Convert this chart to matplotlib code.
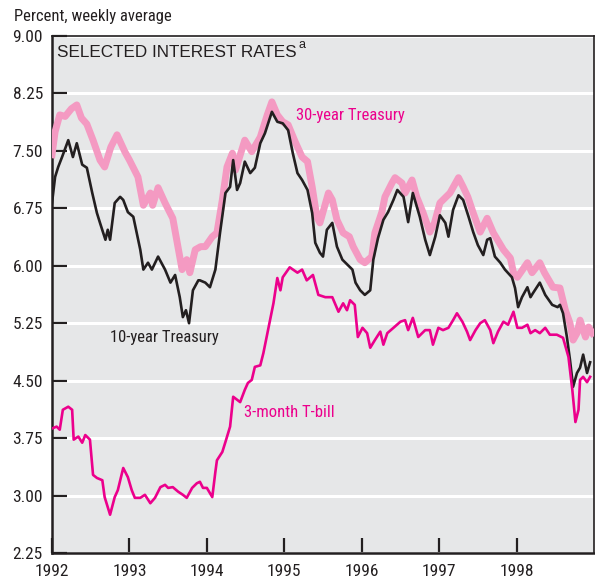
"""Selected interest rates, weekly averages 1992-1998."""
import os
import matplotlib
matplotlib.use("Agg")
import matplotlib.pyplot as plt
from matplotlib import font_manager
from matplotlib.font_manager import FontProperties

# 30-year Treasury (percent)
t30_dates = [1992.00, 1992.04, 1992.10, 1992.17, 1992.25, 1992.32, 1992.38, 1992.45,
             1992.53, 1992.62, 1992.68, 1992.76, 1992.84, 1992.94, 1993.00, 1993.11,
             1993.18, 1993.27, 1993.30, 1993.37, 1993.46, 1993.56, 1993.68, 1993.74,
             1993.78, 1993.85, 1993.92, 1993.98, 1994.07, 1994.13, 1994.20, 1994.26,
             1994.33, 1994.37, 1994.49, 1994.58, 1994.69, 1994.78, 1994.84, 1994.91,
             1994.98, 1995.05, 1995.14, 1995.23, 1995.30, 1995.36, 1995.42, 1995.46,
             1995.57, 1995.62, 1995.68, 1995.76, 1995.84, 1995.89, 1995.98, 1996.04,
             1996.13, 1996.17, 1996.26, 1996.30, 1996.39, 1996.43, 1996.52, 1996.56,
             1996.65, 1996.71, 1996.79, 1996.88, 1996.94, 1997.01, 1997.08, 1997.14,
             1997.25, 1997.31, 1997.37, 1997.44, 1997.53, 1997.62, 1997.70, 1997.83,
             1997.92, 1997.96, 1998.01, 1998.14, 1998.20, 1998.30, 1998.36, 1998.47,
             1998.56, 1998.63, 1998.69, 1998.73, 1998.78, 1998.82, 1998.89, 1998.93,
             1998.98]
t30_rates = [7.45, 7.75, 7.97, 7.95, 8.05, 8.10, 7.93, 7.85,
             7.64, 7.38, 7.29, 7.55, 7.71, 7.49, 7.38, 7.16,
             6.79, 6.95, 6.79, 7.02, 6.82, 6.62, 5.95, 6.08,
             5.91, 6.21, 6.25, 6.25, 6.38, 6.43, 6.86, 7.29,
             7.47, 7.25, 7.64, 7.49, 7.68, 7.97, 8.14, 7.97,
             7.88, 7.84, 7.62, 7.42, 7.36, 7.03, 6.64, 6.56,
             6.95, 6.86, 6.60, 6.43, 6.38, 6.25, 6.08, 6.04,
             6.12, 6.43, 6.70, 6.90, 7.08, 7.15, 7.08, 6.95,
             7.12, 6.90, 6.70, 6.44, 6.56, 6.82, 6.89, 6.95,
             7.15, 7.03, 6.90, 6.69, 6.44, 6.62, 6.43, 6.21,
             6.10, 5.91, 5.85, 6.04, 5.91, 6.04, 5.91, 5.72,
             5.71, 5.42, 5.25, 5.03, 5.12, 5.29, 5.07, 5.20,
             5.12]

# 10-year Treasury (percent)
t10_dates = [1992.00, 1992.04, 1992.08, 1992.13, 1992.21, 1992.27, 1992.32, 1992.39,
             1992.45, 1992.52, 1992.58, 1992.62, 1992.69, 1992.72, 1992.75, 1992.81,
             1992.88, 1992.92, 1992.98, 1993.05, 1993.14, 1993.18, 1993.24, 1993.29,
             1993.37, 1993.46, 1993.53, 1993.59, 1993.65, 1993.69, 1993.73, 1993.77,
             1993.82, 1993.89, 1993.91, 1993.98, 1994.04, 1994.11, 1994.17, 1994.24,
             1994.30, 1994.34, 1994.39, 1994.43, 1994.49, 1994.56, 1994.62, 1994.69,
             1994.75, 1994.84, 1994.91, 1994.98, 1995.05, 1995.11, 1995.17, 1995.23,
             1995.30, 1995.36, 1995.40, 1995.46, 1995.50, 1995.55, 1995.62, 1995.68,
             1995.75, 1995.79, 1995.88, 1995.92, 1995.98, 1996.04, 1996.11, 1996.15,
             1996.21, 1996.28, 1996.34, 1996.41, 1996.46, 1996.54, 1996.60, 1996.66,
             1996.75, 1996.82, 1996.88, 1996.95, 1997.01, 1997.08, 1997.12, 1997.18,
             1997.25, 1997.31, 1997.38, 1997.44, 1997.50, 1997.57, 1997.62, 1997.66,
             1997.72, 1997.79, 1997.85, 1997.94, 1997.98, 1998.02, 1998.07, 1998.14,
             1998.18, 1998.21, 1998.30, 1998.37, 1998.46, 1998.53, 1998.56, 1998.60,
             1998.65, 1998.69, 1998.73, 1998.78, 1998.82, 1998.86, 1998.91, 1998.95]
t10_rates = [6.82, 7.16, 7.29, 7.42, 7.64, 7.42, 7.60, 7.32,
             7.28, 6.95, 6.69, 6.56, 6.34, 6.47, 6.34, 6.82,
             6.90, 6.86, 6.70, 6.64, 6.21, 5.95, 6.04, 5.95,
             6.12, 5.95, 5.78, 5.88, 5.59, 5.33, 5.42, 5.25,
             5.68, 5.81, 5.81, 5.78, 5.72, 5.95, 6.43, 6.95,
             7.03, 7.38, 6.99, 7.08, 7.36, 7.21, 7.28, 7.60,
             7.73, 8.01, 7.88, 7.86, 7.77, 7.47, 7.21, 7.12,
             6.99, 6.69, 6.30, 6.17, 6.12, 6.47, 6.56, 6.25,
             6.08, 6.04, 5.95, 5.78, 5.68, 5.62, 5.68, 6.08,
             6.36, 6.60, 6.70, 6.86, 6.99, 6.90, 6.57, 6.95,
             6.64, 6.34, 6.14, 6.38, 6.66, 6.56, 6.38, 6.73,
             6.92, 6.86, 6.64, 6.44, 6.27, 6.14, 6.34, 6.36,
             6.12, 6.04, 5.95, 5.85, 5.71, 5.46, 5.59, 5.72,
             5.59, 5.64, 5.78, 5.62, 5.49, 5.46, 5.49, 5.38,
             5.07, 4.77, 4.42, 4.60, 4.67, 4.84, 4.60, 4.74]

# 3-month T-bill (percent)
tb_dates = [1992.01, 1992.06, 1992.10, 1992.14, 1992.21, 1992.26, 1992.28, 1992.34,
            1992.39, 1992.43, 1992.49, 1992.53, 1992.58, 1992.65, 1992.68, 1992.75,
            1992.81, 1992.85, 1992.92, 1992.98, 1993.03, 1993.07, 1993.14, 1993.20,
            1993.27, 1993.33, 1993.40, 1993.46, 1993.50, 1993.56, 1993.63, 1993.69,
            1993.74, 1993.81, 1993.87, 1993.91, 1993.95, 1994.00, 1994.07, 1994.11,
            1994.13, 1994.20, 1994.24, 1994.30, 1994.34, 1994.43, 1994.49, 1994.53,
            1994.58, 1994.62, 1994.69, 1994.73, 1994.79, 1994.86, 1994.91, 1994.95,
            1994.98, 1995.07, 1995.17, 1995.23, 1995.29, 1995.37, 1995.44, 1995.53,
            1995.62, 1995.70, 1995.76, 1995.81, 1995.85, 1995.91, 1995.95, 1996.01,
            1996.07, 1996.11, 1996.17, 1996.24, 1996.28, 1996.33, 1996.41, 1996.50,
            1996.56, 1996.60, 1996.66, 1996.73, 1996.82, 1996.88, 1996.92, 1996.99,
            1997.05, 1997.12, 1997.18, 1997.23, 1997.30, 1997.36, 1997.40, 1997.47,
            1997.53, 1997.59, 1997.66, 1997.70, 1997.76, 1997.83, 1997.89, 1997.96,
            1998.01, 1998.07, 1998.14, 1998.18, 1998.24, 1998.30, 1998.37, 1998.43,
            1998.52, 1998.60, 1998.67, 1998.72, 1998.76, 1998.80, 1998.82, 1998.86,
            1998.91, 1998.95]
tb_rates = [3.88, 3.90, 3.86, 4.12, 4.16, 4.12, 3.73, 3.77,
            3.69, 3.79, 3.73, 3.27, 3.23, 3.20, 2.98, 2.75,
            2.98, 3.07, 3.36, 3.24, 3.07, 2.97, 2.97, 3.01,
            2.90, 2.97, 3.11, 3.14, 3.10, 3.11, 3.05, 3.01,
            2.97, 3.10, 3.16, 3.18, 3.10, 3.10, 2.98, 3.31,
            3.46, 3.57, 3.70, 3.90, 4.29, 4.22, 4.38, 4.47,
            4.51, 4.68, 4.70, 4.86, 5.16, 5.51, 5.84, 5.68,
            5.85, 5.98, 5.91, 5.95, 5.81, 5.88, 5.62, 5.59,
            5.59, 5.40, 5.51, 5.42, 5.55, 5.49, 5.07, 5.19,
            5.12, 4.93, 5.03, 5.14, 4.97, 5.12, 5.19, 5.27,
            5.29, 5.16, 5.32, 5.07, 5.16, 5.16, 4.97, 5.19,
            5.16, 5.19, 5.29, 5.38, 5.27, 5.14, 5.03, 5.16,
            5.25, 5.29, 5.16, 4.99, 5.14, 5.27, 5.23, 5.40,
            5.19, 5.19, 5.23, 5.12, 5.16, 5.12, 5.19, 5.10,
            5.10, 5.06, 4.81, 4.38, 3.96, 4.12, 4.51, 4.55,
            4.48, 4.55]

assert len(t30_dates) == len(t30_rates)
assert len(t10_dates) == len(t10_rates)
assert len(tb_dates) == len(tb_rates)

year_ticks = [1992, 1993, 1994, 1995, 1996, 1997, 1998]
rate_ticks = [2.25, 3.00, 3.75, 4.50, 5.25, 6.00, 6.75, 7.50, 8.25, 9.00]

PINK = "#F49AC2"
MAGENTA = "#EC008C"
INK = "#231F20"
BG = "#E6E7E8"


def pick_narrow():
    """Find a condensed sans face if one is installed, else plain Liberation Sans."""
    for fam in ["Liberation Sans Narrow", "Roboto Condensed", "Open Sans Condensed",
                "Noto Sans", "DejaVu Sans", "Open Sans", "Roboto", "Inter"]:
        fp = FontProperties(family=fam, stretch="condensed")
        try:
            path = font_manager.findfont(fp, fallback_to_default=False)
        except ValueError:
            continue
        name = os.path.basename(path).lower()
        if "narrow" in name or "cond" in name:
            return {"family": fam, "stretch": "condensed"}, True
    return {"family": "Liberation Sans", "stretch": "normal"}, False


narrow, is_narrow = pick_narrow()
LABEL_SIZE = 12.5 if is_narrow else 11.5
TEXT_SIZE = 12 if is_narrow else 11


def main() -> None:
    fig = plt.figure(figsize=(5.95, 5.81), dpi=100)
    ax = fig.add_axes([52 / 595, 28 / 581, 542 / 595, 517 / 581])
    ax.set_facecolor(BG)

    ax.plot(t30_dates, t30_rates, color=PINK, lw=5.0, solid_joinstyle="round", zorder=3)
    ax.plot(t10_dates, t10_rates, color=INK, lw=1.9, zorder=4)
    ax.plot(tb_dates, tb_rates, color=MAGENTA, lw=1.9, zorder=5)

    ax.set_xlim(1992, 1999)
    ax.set_ylim(2.25, 9.00)
    ax.set_xticks(year_ticks)
    ax.set_xticklabels([str(y) for y in year_ticks])
    ax.set_yticks(rate_ticks)
    ax.set_yticklabels([f"{v:.2f}" for v in rate_ticks])
    ax.grid(axis="y", color="white", lw=2.2)
    ax.set_axisbelow(True)

    ax.tick_params(axis="both", direction="in", length=11, width=1.6, color=INK,
                   labelcolor=INK)
    ax.tick_params(axis="y", pad=6.5)
    ax.tick_params(axis="x", pad=8)
    for lab in ax.get_xticklabels() + ax.get_yticklabels():
        lab.set_fontfamily(narrow["family"])
        lab.set_fontstretch(narrow["stretch"])
        lab.set_fontsize(LABEL_SIZE)

    for side in ["left", "bottom"]:
        ax.spines[side].set_linewidth(1.8)
        ax.spines[side].set_color(INK)
    for side in ["top", "right"]:
        ax.spines[side].set_linewidth(1.2)
        ax.spines[side].set_color(INK)

    title = ax.text(1992.065, 8.78, "SELECTED INTEREST RATES", family="Liberation Sans",
                    fontsize=12.3, color=INK, va="center", ha="left")
    ax.annotate("a", xy=(1, 1), xycoords=title, xytext=(1.5, 0.5),
                textcoords="offset points", ha="left", va="center",
                family="Liberation Sans", fontsize=9, color=INK)

    ax.text(1995.15, 7.96, "30-year Treasury", color=MAGENTA, fontsize=TEXT_SIZE,
            va="center", ha="left", zorder=6, **narrow)
    ax.text(1992.75, 5.06, "10-year Treasury", color=INK, fontsize=TEXT_SIZE,
            va="center", ha="left", zorder=6, **narrow)
    ax.text(1994.48, 4.09, "3-month T-bill", color=MAGENTA, fontsize=TEXT_SIZE,
            va="center", ha="left", zorder=6, **narrow)

    fig.text(14 / 595, 1 - 17 / 581, "Percent, weekly average", color=INK,
             fontsize=TEXT_SIZE, va="center", ha="left", **narrow)

    fig.savefig("out.png", dpi=100, facecolor="white")
    plt.close(fig)


if __name__ == "__main__":
    main()
